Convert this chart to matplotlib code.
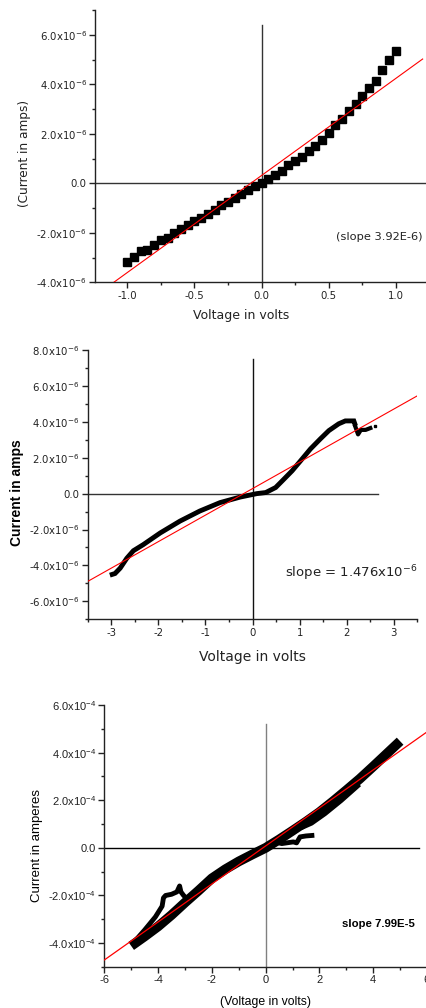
import matplotlib
matplotlib.use("Agg")
import matplotlib.pyplot as plt
from matplotlib.ticker import MultipleLocator, FuncFormatter

plt.rcParams['font.family'] = ['Liberation Sans', 'DejaVu Sans']
plt.rcParams['mathtext.default'] = 'regular'

WIDE = ['DejaVu Sans']

# ---------------- data: panel 1 (amps, x1e-6) ----------------
top_v = [-1.0, -0.95, -0.9, -0.85, -0.8, -0.75, -0.7, -0.65, -0.6, -0.55,
         -0.5, -0.45, -0.4, -0.35, -0.3, -0.25, -0.2, -0.15, -0.1, -0.05,
         0.0, 0.05, 0.1, 0.15, 0.2, 0.25, 0.3, 0.35, 0.4, 0.45,
         0.5, 0.55, 0.6, 0.65, 0.7, 0.75, 0.8, 0.85, 0.9, 0.95, 1.0]
top_i = [-3.19, -2.99, -2.74, -2.69, -2.49, -2.31, -2.20, -1.99, -1.85, -1.69,
         -1.54, -1.39, -1.23, -1.08, -0.89, -0.77, -0.59, -0.43, -0.28, -0.12,
         0.0, 0.16, 0.34, 0.50, 0.72, 0.91, 1.08, 1.31, 1.50, 1.74,
         2.04, 2.35, 2.59, 2.91, 3.19, 3.51, 3.85, 4.15, 4.59, 4.99, 5.36]
top_fit_v = [-1.1, 1.2]
top_fit_i = [-4.0, 5.02]

# ---------------- data: panel 2 (amps, x1e-6) ----------------
mid_v = [-2.98, -2.92, -2.81, -2.67, -2.53, -2.32, -1.96, -1.54, -1.12, -0.69,
         -0.26, 0.09, 0.28, 0.49, 0.63, 0.84, 1.02, 1.23, 1.44, 1.62,
         1.83, 1.97, 2.15, 2.17]
mid_i = [-4.5, -4.45, -4.15, -3.6, -3.18, -2.84, -2.19, -1.53, -0.97, -0.5,
         -0.19, 0.0, 0.06, 0.34, 0.71, 1.27, 1.83, 2.49, 3.05, 3.51,
         3.89, 4.05, 4.05, 3.9]
mid2_v = [2.18, 2.24, 2.3, 2.4, 2.5]
mid2_i = [3.75, 3.3, 3.55, 3.55, 3.65]
mid3_v = [2.6]
mid3_i = [3.75]
mid_fit_v = [-3.5, 3.5]
mid_fit_i = [-4.89, 5.45]

# ---------------- data: panel 3 (amperes, x1e-4) ----------------
bot_v = [-5.0, -4.5, -4.0, -3.5, -3.0, -2.5, -2.0, -1.5, -1.0, -0.5,
         0.0, 0.5, 1.0, 1.5, 2.0, 2.5, 3.0, 3.5, 4.0, 4.5, 5.0]
bot_i = [-4.12, -3.72, -3.3, -2.82, -2.3, -1.8, -1.28, -0.9, -0.57, -0.28,
         0.0, 0.35, 0.72, 1.1, 1.5, 1.95, 2.42, 2.9, 3.42, 3.95, 4.48]
loop_v = [-4.85, -4.5, -4.1, -3.85, -3.8, -3.72, -3.5, -3.3, -3.2, -3.15,
          -3.05, -2.92]
loop_i = [-3.9, -3.45, -2.9, -2.45, -2.1, -2.0, -1.95, -1.85, -1.6, -1.85,
          -2.0, -2.15]
hook_v = [0.35, 0.6, 1.03, 1.15, 1.28, 1.5, 1.72]
hook_i = [0.25, 0.18, 0.25, 0.21, 0.46, 0.5, 0.52]
low_v = [1.4, 1.7, 2.2, 2.8, 3.4]
low_i = [0.9, 1.05, 1.45, 2.0, 2.6]
bot_fit_v = [-6.0, 6.0]
bot_fit_i = [-4.71, 4.87]

W, H = 426, 1008
fig = plt.figure(figsize=(W / 100, H / 100), dpi=100)


def add_axes(left_px, right_px, top_px, bottom_px):
    return fig.add_axes([left_px / W, 1 - bottom_px / H,
                         (right_px - left_px) / W, (bottom_px - top_px) / H])


def style(ax, size, family=None):
    for s in ('top', 'right'):
        ax.spines[s].set_visible(False)
    for s in ('left', 'bottom'):
        ax.spines[s].set_linewidth(1.0)
        ax.spines[s].set_color('#222222')
    ax.tick_params(which='major', direction='out', length=4, width=1.0,
                   labelsize=size, pad=2, colors='#222222')
    ax.tick_params(which='minor', direction='out', length=2.5, width=1.0,
                   colors='#222222')
    if family:
        for lab in ax.get_xticklabels() + ax.get_yticklabels():
            lab.set_family(family)


def sci_fmt(exp):
    def f(v, pos):
        m = v / 10 ** exp
        if abs(m) < 1e-9:
            return '0.0'
        return '%.1fx10$^{%d}$' % (m, exp)
    return FuncFormatter(f)


# ---------------- panel 1 ----------------
ax1 = add_axes(95, 426, 10, 282.3)
ax1.set_xlim(-1.24, 1.225)
ax1.set_ylim(-4e-6, 7e-6)
ax1.xaxis.set_major_locator(MultipleLocator(0.5))
ax1.xaxis.set_minor_locator(MultipleLocator(0.25))
ax1.yaxis.set_major_locator(MultipleLocator(2e-6))
ax1.yaxis.set_minor_locator(MultipleLocator(1e-6))
ax1.yaxis.set_major_formatter(sci_fmt(-6))
ax1.xaxis.set_major_formatter(FuncFormatter(lambda v, p: '%.1f' % v))
style(ax1, 7.3)
ax1.axhline(0, color='#333333', lw=1.0, zorder=1)
ax1.plot([0, 0], [6.4e-6, -4e-6], color='#333333', lw=1.0, zorder=1)
ax1.plot(top_v, [v * 1e-6 for v in top_i], 's', color='black', ms=5.2,
         zorder=3)
ax1.plot(top_fit_v, [v * 1e-6 for v in top_fit_i], color='red', lw=0.8,
         zorder=4)
ax1.text(0.875, -2.16e-6, '(slope 3.92E-6)', fontsize=8.2, ha='center',
         va='center', family=WIDE, color='#222222')
fig.text(241 / W, 1 - 315 / H, 'Voltage in volts', fontsize=9,
         ha='center', va='center', family=WIDE, color='#222222')
fig.text(25 / W, 1 - 153 / H, '(Current in amps)', fontsize=8.7,
         ha='center', va='center', rotation=90, family=WIDE, color='#222222')
for lab in ax1.get_xticklabels() + ax1.get_yticklabels():
    lab.set_family(WIDE)

# ---------------- panel 2 ----------------
ax2 = add_axes(87.7, 417.4, 350, 619.3)
ax2.set_xlim(-3.5, 3.5)
ax2.set_ylim(-7e-6, 8e-6)
ax2.xaxis.set_major_locator(MultipleLocator(1))
ax2.xaxis.set_minor_locator(MultipleLocator(0.5))
ax2.yaxis.set_major_locator(MultipleLocator(2e-6))
ax2.yaxis.set_minor_locator(MultipleLocator(1e-6))
ax2.yaxis.set_major_formatter(sci_fmt(-6))
ax2.xaxis.set_major_formatter(FuncFormatter(lambda v, p: '%d' % round(v)))
style(ax2, 7.3)
ax2.plot([-3.5, 2.67], [0, 0], color='#333333', lw=1.0, zorder=1)
ax2.plot([0, 0], [7.5e-6, -7e-6], color='#111111', lw=1.0, zorder=1)
ax2.plot(mid_v, [v * 1e-6 for v in mid_i], '-', color='black', lw=3.5,
         solid_joinstyle='miter', zorder=3)
ax2.plot(mid2_v, [v * 1e-6 for v in mid2_i], '-', color='black', lw=3.0,
         zorder=3)
ax2.plot(mid3_v, [v * 1e-6 for v in mid3_i], 's', color='black', ms=1.8,
         zorder=3)
ax2.plot(mid_fit_v, [v * 1e-6 for v in mid_fit_i], color='red', lw=0.8,
         zorder=4)
ax2.text(2.1, -4.46e-6, 'slope = 1.476x10$^{-6}$', fontsize=9.5,
         ha='center', va='center', color='#222222', family=WIDE)
fig.text(252 / W, 1 - 657 / H, 'Voltage in volts', fontsize=10,
         ha='center', va='center', color='#222222', family=WIDE)
fig.text(17 / W, 1 - 493 / H, 'Current in amps', fontsize=10,
         fontweight='bold', ha='center', va='center', rotation=90)
for lab in ax2.get_xticklabels() + ax2.get_yticklabels():
    lab.set_family(WIDE)

# ---------------- panel 3 ----------------
ax3 = add_axes(104.3, 427, 705, 966.9)
ax3.set_xlim(-6, 6)
ax3.set_ylim(-5e-4, 6e-4)
ax3.xaxis.set_major_locator(MultipleLocator(2))
ax3.xaxis.set_minor_locator(MultipleLocator(1))
ax3.yaxis.set_major_locator(MultipleLocator(2e-4))
ax3.yaxis.set_minor_locator(MultipleLocator(1e-4))
ax3.yaxis.set_major_formatter(sci_fmt(-4))
ax3.xaxis.set_major_formatter(FuncFormatter(lambda v, p: '%d' % round(v)))
style(ax3, 8)
ax3.plot([-6, 5.7], [0, 0], color='black', lw=1.0, zorder=1)
ax3.plot([0, 0], [5.2e-4, -5e-4], color='#808080', lw=1.0, zorder=1)
ax3.plot(bot_v, [v * 1e-4 for v in bot_i], '-', color='black', lw=7,
         solid_capstyle='butt', zorder=3)
ax3.plot(loop_v, [v * 1e-4 for v in loop_i], '-', color='black', lw=3.5,
         zorder=3)
ax3.plot(hook_v, [v * 1e-4 for v in hook_i], '-', color='black', lw=3.5,
         zorder=3)
ax3.plot(low_v, [v * 1e-4 for v in low_i], '-', color='black', lw=4.0,
         zorder=3)
ax3.plot(bot_fit_v, [v * 1e-4 for v in bot_fit_i], color='red', lw=0.9,
         zorder=4)
ax3.text(4.19, -3.21e-4, 'slope 7.99E-5', fontsize=8.2, fontweight='bold',
         ha='center', va='center')
fig.text(265 / W, 1 - 1002 / H, '(Voltage in volts)', fontsize=8.8,
         ha='center', va='center')
fig.text(37 / W, 1 - 845 / H, 'Current in amperes', fontsize=9.5,
         ha='center', va='center', rotation=90)

fig.savefig('out.png', dpi=100)
